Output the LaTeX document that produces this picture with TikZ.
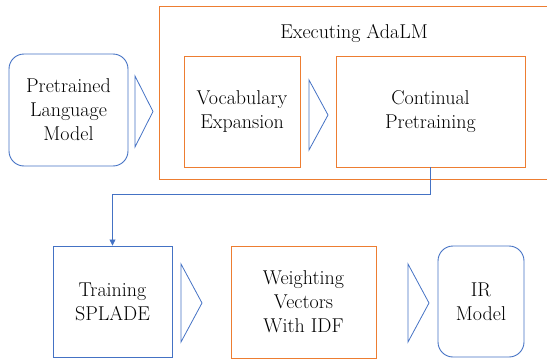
\documentclass[tikz,border=0pt]{standalone}
\usetikzlibrary{arrows.meta}
\definecolor{boxorange}{RGB}{237,125,49}
\definecolor{boxblue}{RGB}{68,114,196}
\tikzset{every node/.style={align=center,inner sep=0pt,font=\fontsize{20}{24}\selectfont}}
\tikzset{ob/.style={rectangle,draw=boxorange,line width=0.9pt}}
\tikzset{bb/.style={rectangle,draw=boxblue,line width=0.9pt}}
\tikzset{rb/.style={bb,rounded corners=15pt}}

\begin{document}
\begin{tikzpicture}[x=1pt,y=-1pt]
      \useasboundingbox (0,0) rectangle (547,359);
      % outer frame, cut at the right edge
      \draw[boxorange,line width=0.9pt] (548,6) -- (159,6) -- (159,179) -- (548,179);
      \node (exec) at (354,33) {Executing AdaLM};
      \node[rb,minimum width=119pt,minimum height=112pt] (plm) at (68.5,110) {Pretrained\\Language\\Model};
      \node[ob,minimum width=116pt,minimum height=111pt] (vocab) at (242,111.5) {Vocabulary\\Expansion};
      \node[ob,minimum width=189pt,minimum height=111pt] (cont) at (430.5,111.5) {Continual\\Pretraining};
      \node[bb,minimum width=119pt,minimum height=111pt] (train) at (112.5,301.5) {Training\\SPLADE};
      \node[ob,minimum width=145pt,minimum height=112pt] (idf) at (303.5,302) {Weighting\\Vectors\\With IDF};
      \node[rb,minimum width=86pt,minimum height=111pt] (ir) at (481,301.5) {IR\\Model};
      \draw[boxblue,line width=0.8pt,-{Triangle[length=6pt,width=6pt]}] (cont.south) -- ++(0,27) -| (train.north);
      % open arrow heads between the steps
      \foreach \x/\y/\w/\h in {135/111.5/18/35.5, 309/115/19/35, 181/303/21/39, 408/303/21/39}
        \draw[boxblue,line width=0.8pt,line join=miter] (\x,\y-\h) -- (\x+\w,\y) -- (\x,\y+\h) -- cycle;
\end{tikzpicture}
\end{document}
